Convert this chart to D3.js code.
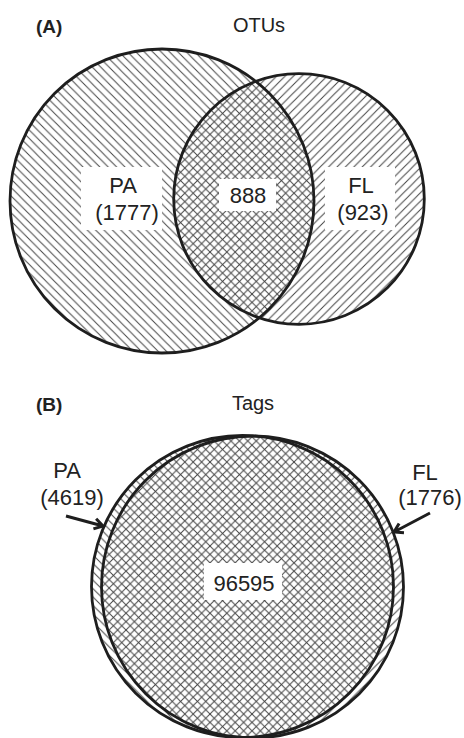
<!DOCTYPE html>
<html><head><meta charset="utf-8">
<script src="https://cdn.jsdelivr.net/npm/d3@7"></script>
<style>body{margin:0;background:#fff}svg{display:block}text{font-family:"Liberation Sans",Arial,sans-serif;fill:#222}</style>
</head><body>
<script>
// ---- data ----
const panels = ["(A)", "(B)"];
const panelTitles = ["OTUs", "Tags"];
const setNames = ["PA", "FL"];
const otuUnique = [1777, 923];   // PA only, FL only
const otuShared = [888];
const tagUnique = [4619, 1776];
const tagShared = [96595];

// ---- layout ----
const W = 464, H = 738;
const svg = d3.select("body").append("svg").attr("width", W).attr("height", H);
const defs = svg.append("defs");
function hatch(id, d) {
  const p = defs.append("pattern").attr("id", id).attr("patternUnits", "userSpaceOnUse")
    .attr("width", 8.4).attr("height", 8.4);
  p.append("path").attr("d", d).attr("stroke", "#444").attr("stroke-width", 1).attr("fill", "none");
}
hatch("back", "M-2,-2L10.4,10.4M-2,6.4L2,10.4M6.4,-2L10.4,2");
hatch("fwd", "M-2,10.4L10.4,-2M-2,2L2,-2M6.4,10.4L10.4,6.4");

const txtSize = 22;

// Panel A: radii area-proportional via sqrt scale
const totalsA = [otuUnique[0] + otuShared[0], otuUnique[1] + otuShared[0]];
const rA = d3.scaleSqrt().domain([0, d3.max(totalsA)]).range([0, 152]);
const circA = [{cx: 162, cy: 201, r: rA(totalsA[0]), fill: "url(#back)"},
               {cx: 299, cy: 199, r: rA(totalsA[1]), fill: "url(#fwd)"}];

// Panel B: nearly identical circles
const circB = [{cx: 242.5, cy: 586.5, r: 151, fill: "url(#back)"},
               {cx: 252.5, cy: 587, r: 151, fill: "url(#fwd)"}];

function drawCircles(arr) {
  const g = svg.append("g");
  g.selectAll("circle.f").data(arr).enter().append("circle")
    .attr("cx", d => d.cx).attr("cy", d => d.cy).attr("r", d => d.r)
    .attr("fill", d => d.fill).attr("stroke", "none");
  g.selectAll("circle.s").data(arr).enter().append("circle")
    .attr("cx", d => d.cx).attr("cy", d => d.cy).attr("r", d => d.r)
    .attr("fill", "none").attr("stroke", "#1e1e1e").attr("stroke-width", 2.8);
}
drawCircles(circA);
drawCircles(circB);

// panel labels & titles
svg.selectAll("text.pl").data(panels).enter().append("text")
  .attr("x", 36).attr("y", (d, i) => [33, 411][i])
  .attr("font-size", 19).attr("font-weight", "bold").text(d => d);
svg.selectAll("text.pt").data(panelTitles).enter().append("text")
  .attr("x", (d, i) => [259, 253][i]).attr("y", (d, i) => [32, 410][i])
  .attr("text-anchor", "middle").attr("font-size", 20).text(d => d);

function box(x, y, w, h) {
  svg.append("rect").attr("x", x).attr("y", y).attr("width", w).attr("height", h).attr("fill", "#fff");
}
function label(lines, cx, ys) {
  lines.forEach((t, i) => svg.append("text").attr("x", cx[i]).attr("y", ys[i])
    .attr("text-anchor", "middle").attr("font-size", txtSize).text(t));
}

// Panel A labels
box(81, 167, 81, 63);
label([setNames[0], "(" + otuUnique[0] + ")"], [123, 127], [193, 220]);
box(219, 179, 57, 32);
label([String(otuShared[0])], [248], [203]);
box(325, 167, 70, 63);
label([setNames[1], "(" + otuUnique[1] + ")"], [361, 363], [193, 220]);

// Panel B labels
box(204, 563, 78, 37);
label([String(tagShared[0])], [244], [591]);
label([setNames[0], "(" + tagUnique[0] + ")"], [67, 72], [478, 505]);
label([setNames[1], "(" + tagUnique[1] + ")"], [425, 430], [480, 505]);

// arrows
function arrow(x1, y1, x2, y2) {
  const a = Math.atan2(y2 - y1, x2 - x1), L = 10, s = 0.55;
  const p1 = [x2 - L * Math.cos(a - s), y2 - L * Math.sin(a - s)];
  const p2 = [x2 - L * Math.cos(a + s), y2 - L * Math.sin(a + s)];
  const path = d3.path();
  path.moveTo(x1, y1); path.lineTo(x2, y2);
  path.moveTo(p1[0], p1[1]); path.lineTo(x2, y2); path.lineTo(p2[0], p2[1]);
  svg.append("path").attr("d", path.toString()).attr("fill", "none")
    .attr("stroke", "#1e1e1e").attr("stroke-width", 3).attr("stroke-linecap", "butt");
}
arrow(66, 516, 103, 526);
arrow(430, 513, 394, 532);
</script>
</body></html>
